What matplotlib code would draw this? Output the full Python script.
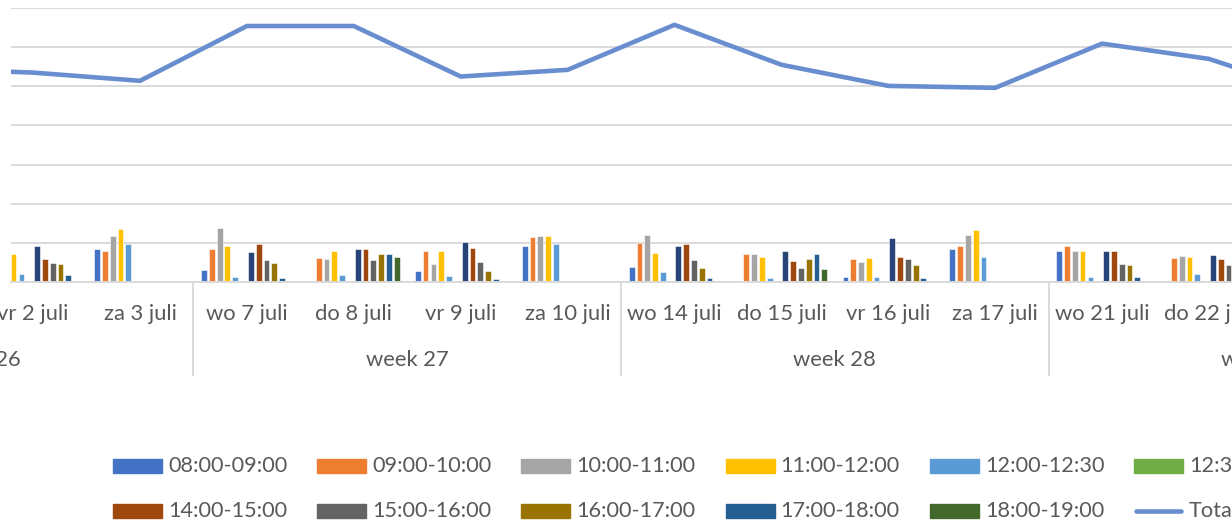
"""Geclusterde staafgrafiek per tijdvak + totaallijn, per dag gegroepeerd per week."""

import matplotlib
matplotlib.use("Agg")
import matplotlib.pyplot as plt
import matplotlib.transforms as mtransforms
from matplotlib.patches import Rectangle
import numpy as np

plt.rcParams["font.family"] = ["Lato", "DejaVu Sans"]

days = ["wo 30 juni", "do 1 juli", "vr 2 juli", "za 3 juli",
        "wo 7 juli", "do 8 juli", "vr 9 juli", "za 10 juli",
        "wo 14 juli", "do 15 juli", "vr 16 juli", "za 17 juli",
        "wo 21 juli", "do 22 juli", "vr 23 juli", "za 24 juli"]
weeks = ["week 26", "week 27", "week 28", "week 29"]
days_per_week = 4

slots = ["08:00-09:00", "09:00-10:00", "10:00-11:00", "11:00-12:00",
         "12:00-12:30", "12:30-13:00", "13:00-14:00", "14:00-15:00",
         "15:00-16:00", "16:00-17:00", "17:00-18:00", "18:00-19:00"]

s0800 = [40, 0, 75, 84, 31, 0, 28, 91, 39, 0, 14, 84, 78, 0, 20, 85]
s0900 = [85, 65, 80, 78, 84, 61, 78, 115, 99, 72, 60, 91, 93, 61, 62, 95]
s1000 = [110, 62, 90, 117, 139, 60, 46, 118, 121, 72, 51, 120, 78, 66, 55, 115]
s1100 = [90, 75, 72, 135, 93, 78, 79, 118, 75, 63, 61, 133, 79, 65, 60, 125]
s1200 = [15, 18, 20, 98, 13, 17, 15, 98, 26, 11, 14, 65, 13, 20, 15, 90]
s1230 = [0] * 16
s1300 = [85, 80, 92, 0, 76, 84, 101, 0, 91, 78, 113, 0, 79, 70, 100, 0]
s1400 = [90, 82, 60, 0, 96, 84, 87, 0, 98, 54, 65, 0, 78, 58, 70, 0]
s1500 = [50, 55, 48, 0, 55, 57, 51, 0, 55, 35, 60, 0, 46, 43, 50, 0]
s1600 = [45, 70, 46, 0, 49, 72, 28, 0, 35, 60, 43, 0, 43, 60, 35, 0]
s1700 = [12, 70, 17, 0, 11, 72, 8, 0, 9, 72, 11, 0, 14, 65, 10, 0]
s1800 = [0, 62, 0, 0, 0, 65, 0, 0, 0, 33, 0, 0, 0, 45, 0, 0]

total = [545, 545, 535, 514, 654, 654, 525, 542, 657, 555, 501, 496, 609, 570, 480, 520]

series = [s0800, s0900, s1000, s1100, s1200, s1230,
          s1300, s1400, s1500, s1600, s1700, s1800]
colors = ["#4472C4", "#ED7D31", "#A5A5A5", "#FFC000", "#5B9BD5", "#70AD47",
          "#264478", "#9E480E", "#636363", "#997300", "#255E91", "#43682B"]
line_color = "#698ED0"
text_color = "#595959"
grid_color = "#D9D9D9"

W, H = 1232, 529
fig = plt.figure(figsize=(W / 100, H / 100), dpi=100)

# plot area: left edge at 11 px, continues past the right edge of the image
px0, px_step, i0 = 140.0, 106.9, 3   # za 3 juli centred at 140 px


def px_to_x(px):
    return i0 + (px - px0) / px_step


top_px, base_px = 8, 282
ax = fig.add_axes([11 / W, 1 - base_px / H, (W - 11) / W, (base_px - top_px) / H])
ax.set_xlim(px_to_x(11), px_to_x(W))
ax.set_ylim(0, 700)

x = np.arange(len(days))
step = 7.8 / px_step
width = 5.8 / px_step
for k, (vals, col) in enumerate(zip(series, colors)):
    ax.bar(x + (k - 5.5) * step, vals, width=width, color=col,
           edgecolor="white", linewidth=0.4, zorder=2)

ax.plot(x, total, color=line_color, linewidth=3.3, solid_joinstyle="miter", zorder=3)

ax.set_yticks(np.arange(0, 701, 100))
ax.yaxis.grid(True, color=grid_color, linewidth=1.4)
ax.set_axisbelow(True)
ax.tick_params(left=False, labelleft=False, bottom=False, labelbottom=False)
for side in ["left", "right", "top"]:
    ax.spines[side].set_visible(False)
ax.spines["bottom"].set_color(grid_color)
ax.spines["bottom"].set_linewidth(1.4)

# two-level category axis
trans = mtransforms.blended_transform_factory(ax.transData, fig.transFigure)
fs = 15.8
for i, d in enumerate(days):
    ax.text(i, 1 - 314 / H, d, transform=trans, ha="center", va="center",
            fontsize=fs, color=text_color, clip_on=False)
for w, name in enumerate(weeks):
    xc = w * days_per_week + (days_per_week - 1) / 2
    ax.text(xc, 1 - 360 / H, name, transform=trans, ha="center", va="center",
            fontsize=fs, color=text_color, clip_on=False)
for b in range(len(weeks) + 1):
    xb = b * days_per_week - 0.5
    ax.plot([xb, xb], [1 - base_px / H, 1 - 375 / H], transform=trans,
            color=grid_color, linewidth=1.4, clip_on=False)

# legend, laid out like Excel (7 per row)
lax = fig.add_axes([0, 0, 1, 1], zorder=-1)
lax.set_xlim(0, W)
lax.set_ylim(H, 0)
lax.axis("off")
labels = slots + ["Total"]
for k, lab in enumerate(labels):
    row, col = divmod(k, 7)
    lx = 113 + col * 204.2
    ly = 466 + row * 45
    if lab == "Total":
        lax.plot([lx + 2, lx + 47], [ly, ly], color=line_color, linewidth=3.3,
                 solid_capstyle="round")
    else:
        lax.add_patch(Rectangle((lx, ly - 7), 49, 14, color=colors[k]))
    lax.text(lx + 55, ly, lab, ha="left", va="center", fontsize=15.6, color=text_color)

fig.savefig("out.png", dpi=100)
plt.close(fig)
